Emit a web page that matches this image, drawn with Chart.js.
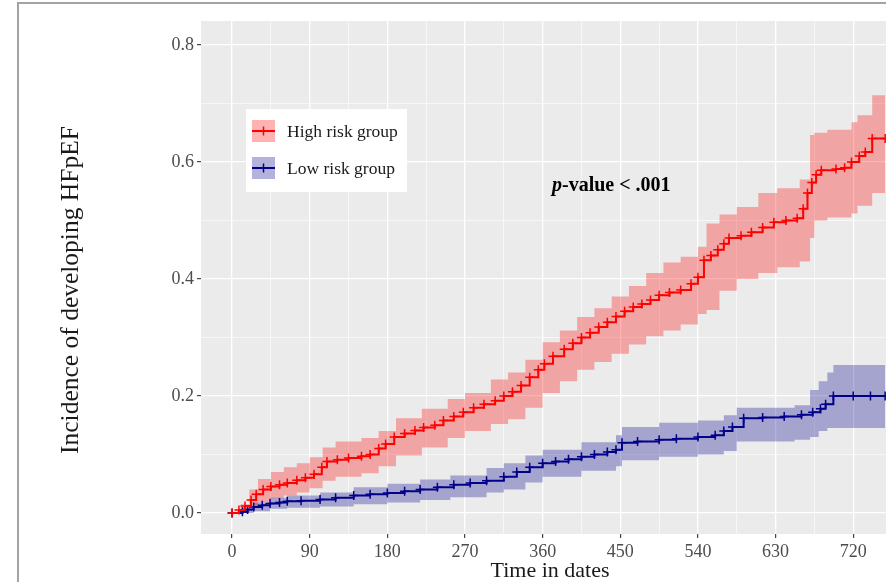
<!DOCTYPE html>
<html>
<head>
<meta charset="utf-8">
<script src="https://cdn.jsdelivr.net/npm/chart.js@4.4.0/dist/chart.umd.min.js"></script>
<style>
  body { margin: 0; background: #fff; }
  #wrap { position: relative; width: 886px; height: 582px; overflow: hidden; }
  #grafico { position: absolute; left: 0; top: 0; }
  #frame { position: absolute; left: 17px; top: 2px; width: 900px; height: 600px;
           border-top: 2px solid #a3a3a3; border-left: 2px solid #a3a3a3; }
</style>
</head>
<body>
<div id="wrap">
  <canvas id="grafico" width="886" height="582"></canvas>
  <div id="frame"></div>
</div>
<script>
// High risk group - cumulative incidence (step curve)
var highDays = [0,8,15,22,28,36,45,55,64,75,85,95,104,110,122,135,150,160,170,178,188,200,212,222,235,245,257,268,280,292,305,315,325,335,345,355,362,372,385,395,405,415,425,435,445,455,465,475,485,495,507,520,532,540,547,555,563,570,576,590,602,615,628,642,655,662,667,672,677,683,700,710,718,727,734,742,757];
var highInc = [0,0.005,0.012,0.022,0.032,0.040,0.045,0.048,0.051,0.056,0.060,0.066,0.078,0.088,0.091,0.094,0.097,0.100,0.110,0.118,0.130,0.136,0.141,0.146,0.150,0.158,0.165,0.172,0.180,0.186,0.192,0.200,0.207,0.218,0.232,0.245,0.255,0.268,0.280,0.290,0.300,0.308,0.318,0.326,0.336,0.345,0.352,0.357,0.364,0.372,0.377,0.381,0.392,0.403,0.432,0.440,0.450,0.460,0.470,0.474,0.480,0.488,0.497,0.500,0.504,0.520,0.547,0.565,0.578,0.586,0.588,0.590,0.600,0.610,0.617,0.640,0.640];

// High risk group - confidence band
var highBandDays = [0,10,20,30,45,60,75,90,105,120,150,170,190,220,250,270,300,320,340,360,380,400,420,440,460,480,500,520,540,550,565,585,610,632,658,670,675,690,718,725,742,757];
var highLower = [0,0,0.008,0.018,0.025,0.030,0.035,0.042,0.055,0.062,0.068,0.080,0.098,0.112,0.128,0.140,0.152,0.160,0.180,0.205,0.225,0.245,0.258,0.272,0.288,0.302,0.312,0.322,0.340,0.347,0.380,0.400,0.410,0.420,0.430,0.470,0.500,0.505,0.512,0.525,0.547,0.547];
var highUpper = [0,0.015,0.040,0.058,0.070,0.078,0.085,0.095,0.112,0.122,0.128,0.140,0.162,0.178,0.195,0.205,0.228,0.240,0.262,0.292,0.312,0.335,0.350,0.370,0.388,0.410,0.428,0.438,0.455,0.495,0.510,0.523,0.547,0.555,0.570,0.646,0.650,0.655,0.668,0.680,0.714,0.714];

// Low risk group
var lowDays = [0,12,18,25,35,44,55,64,80,102,120,141,160,180,200,218,238,257,276,295,315,330,345,360,375,390,405,420,435,445,452,470,495,515,540,560,570,580,593,615,640,660,673,682,688,697,720,740,757];
var lowInc = [0,0.002,0.006,0.010,0.013,0.016,0.018,0.020,0.021,0.023,0.026,0.030,0.032,0.034,0.037,0.040,0.044,0.048,0.051,0.055,0.062,0.070,0.078,0.085,0.088,0.092,0.096,0.100,0.104,0.108,0.120,0.122,0.125,0.127,0.130,0.133,0.140,0.147,0.162,0.163,0.165,0.168,0.172,0.178,0.186,0.200,0.200,0.200,0.200];

var lowBandDays = [0,12,25,44,64,102,141,180,218,253,295,315,340,360,405,445,452,495,540,570,585,652,670,680,690,697,757];
var lowLower = [0,0,0.003,0.007,0.009,0.011,0.015,0.018,0.022,0.027,0.035,0.040,0.052,0.062,0.072,0.080,0.090,0.096,0.100,0.106,0.122,0.125,0.130,0.140,0.145,0.145,0.145];
var lowUpper = [0,0.006,0.018,0.026,0.030,0.035,0.044,0.050,0.057,0.064,0.077,0.085,0.098,0.108,0.121,0.133,0.147,0.154,0.158,0.167,0.180,0.184,0.210,0.225,0.240,0.253,0.253];

// axis ticks (major + minor gridlines)
var xTickValues = [0,45,90,135,180,225,270,315,360,405,450,495,540,585,630,675,720];
var yTickValues = [0,0.1,0.2,0.3,0.4,0.5,0.6,0.7,0.8];

var serif = '"Liberation Serif", "Times New Roman", serif';

function pares(dias, valores) {
  return dias.map(function (d, i) { return { x: d, y: valores[i] }; });
}

function ehMajorX(v) { return v % 90 === 0; }
function ehMajorY(v) { return Math.round(v * 10) % 2 === 0; }

// gray ggplot panel
const fundoPainel = {
  id: 'fundoPainel',
  beforeDraw(chart) {
    const a = chart.chartArea;
    const ctx = chart.ctx;
    ctx.save();
    ctx.fillStyle = '#ebebeb';
    ctx.fillRect(a.left, a.top, a.right - a.left, a.bottom - a.top);
    ctx.restore();
  }
};

function desenhaCruz(ctx, x, y, r, cor) {
  ctx.strokeStyle = cor;
  ctx.lineWidth = 1.5;
  ctx.beginPath();
  ctx.moveTo(x - r, y); ctx.lineTo(x + r, y);
  ctx.moveTo(x, y - r); ctx.lineTo(x, y + r);
  ctx.stroke();
}

// legend, p-value and axis titles
const textos = {
  id: 'textos',
  afterDraw(chart) {
    const ctx = chart.ctx;
    ctx.save();

    // legend box
    ctx.fillStyle = '#ffffff';
    ctx.fillRect(246, 109, 161, 83);
    var chaves = [
      { y: 120, fill: 'rgba(255,0,0,0.3)', cor: '#ff0000', txt: 'High risk group' },
      { y: 157, fill: 'rgba(0,0,139,0.3)', cor: '#00008b', txt: 'Low risk group' }
    ];
    chaves.forEach(function (k) {
      ctx.fillStyle = k.fill;
      ctx.fillRect(252, k.y, 23, 22);
      ctx.strokeStyle = k.cor;
      ctx.lineWidth = 2;
      ctx.beginPath();
      ctx.moveTo(252, k.y + 11); ctx.lineTo(275, k.y + 11);
      ctx.stroke();
      desenhaCruz(ctx, 263.5, k.y + 11, 4.5, k.cor);
      ctx.fillStyle = '#1a1a1a';
      ctx.font = '17.5px ' + serif;
      ctx.textAlign = 'left';
      ctx.textBaseline = 'middle';
      ctx.fillText(k.txt, 287, k.y + 12);
    });

    // p-value annotation
    ctx.fillStyle = '#000';
    ctx.textBaseline = 'middle';
    ctx.font = 'italic bold 20px ' + serif;
    ctx.fillText('p', 552, 186);
    var w = ctx.measureText('p').width;
    ctx.font = 'bold 20px ' + serif;
    ctx.fillText('-value < .001', 552 + w, 186);

    // axis titles
    ctx.fillStyle = '#1a1a1a';
    ctx.font = '22px ' + serif;
    ctx.textAlign = 'center';
    ctx.fillText('Time in dates', 550, 571);

    ctx.translate(71, 290);
    ctx.rotate(-Math.PI / 2);
    ctx.font = '25.5px ' + serif;
    ctx.fillText('Incidence of developing HFpEF', 0, 0);
    ctx.restore();
  }
};

const dados = {
  datasets: [
    {
      label: 'High risk group',
      data: pares(highDays, highInc),
      stepped: true,
      borderColor: '#ff0000',
      borderWidth: 2,
      pointStyle: 'cross',
      pointRadius: 4.5,
      pointBorderWidth: 1.5,
      pointBorderColor: '#ff0000',
      fill: false
    },
    {
      label: 'Low risk group',
      data: pares(lowDays, lowInc),
      stepped: true,
      borderColor: '#00008b',
      borderWidth: 2,
      pointStyle: 'cross',
      pointRadius: 4.5,
      pointBorderWidth: 1.5,
      pointBorderColor: '#00008b',
      fill: false
    },
    {
      label: 'high lower',
      data: pares(highBandDays, highLower),
      stepped: true,
      borderWidth: 0,
      borderColor: 'rgba(0,0,0,0)',
      pointRadius: 0,
      fill: false
    },
    {
      label: 'high upper',
      data: pares(highBandDays, highUpper),
      stepped: true,
      borderWidth: 0,
      borderColor: 'rgba(0,0,0,0)',
      pointRadius: 0,
      backgroundColor: 'rgba(255,0,0,0.3)',
      fill: 2
    },
    {
      label: 'low lower',
      data: pares(lowBandDays, lowLower),
      stepped: true,
      borderWidth: 0,
      borderColor: 'rgba(0,0,0,0)',
      pointRadius: 0,
      fill: false
    },
    {
      label: 'low upper',
      data: pares(lowBandDays, lowUpper),
      stepped: true,
      borderWidth: 0,
      borderColor: 'rgba(0,0,0,0)',
      pointRadius: 0,
      backgroundColor: 'rgba(0,0,139,0.3)',
      fill: 4
    }
  ]
};

const config = {
  type: 'line',
  data: dados,
  plugins: [fundoPainel, textos],
  options: {
    responsive: false,
    animation: false,
    devicePixelRatio: 1,
    layout: { autoPadding: false, padding: { top: 21, right: 0, left: 0, bottom: 0 } },
    plugins: { legend: { display: false }, tooltip: { enabled: false } },
    events: [],
    scales: {
      x: {
        type: 'linear',
        min: -36,
        max: 758,
        afterBuildTicks: function (s) { s.ticks = xTickValues.map(function (v) { return { value: v }; }); },
        afterFit: function (s) { s.height = 48; s.paddingRight = 0; s.paddingLeft = 0; },
        border: { display: false },
        grid: {
          color: '#ffffff',
          lineWidth: function (c) { return c.tick && ehMajorX(c.tick.value) ? 1.3 : 0.6; },
          tickColor: function (c) { return c.tick && ehMajorX(c.tick.value) ? '#333333' : 'rgba(0,0,0,0)'; },
          tickLength: 4,
          tickWidth: 1.1
        },
        ticks: {
          autoSkip: false,
          maxRotation: 0,
          padding: 3,
          color: '#4d4d4d',
          font: { family: serif, size: 18 },
          callback: function (v) { return ehMajorX(v) ? String(v) : ''; }
        }
      },
      y: {
        type: 'linear',
        min: -0.036,
        max: 0.841,
        afterBuildTicks: function (s) { s.ticks = yTickValues.map(function (v) { return { value: v }; }); },
        afterFit: function (s) { s.width = 201; s.paddingTop = 0; s.paddingBottom = 0; },
        border: { display: false },
        grid: {
          color: '#ffffff',
          lineWidth: function (c) { return c.tick && ehMajorY(c.tick.value) ? 1.3 : 0.6; },
          tickColor: function (c) { return c.tick && ehMajorY(c.tick.value) ? '#333333' : 'rgba(0,0,0,0)'; },
          tickLength: 4,
          tickWidth: 1.1
        },
        ticks: {
          padding: 3,
          color: '#4d4d4d',
          font: { family: serif, size: 18 },
          callback: function (v) { return ehMajorY(v) ? v.toFixed(1) : ''; }
        }
      }
    }
  }
};

let chart_hfpef = new Chart(document.getElementById('grafico'), config);
</script>
</body>
</html>
